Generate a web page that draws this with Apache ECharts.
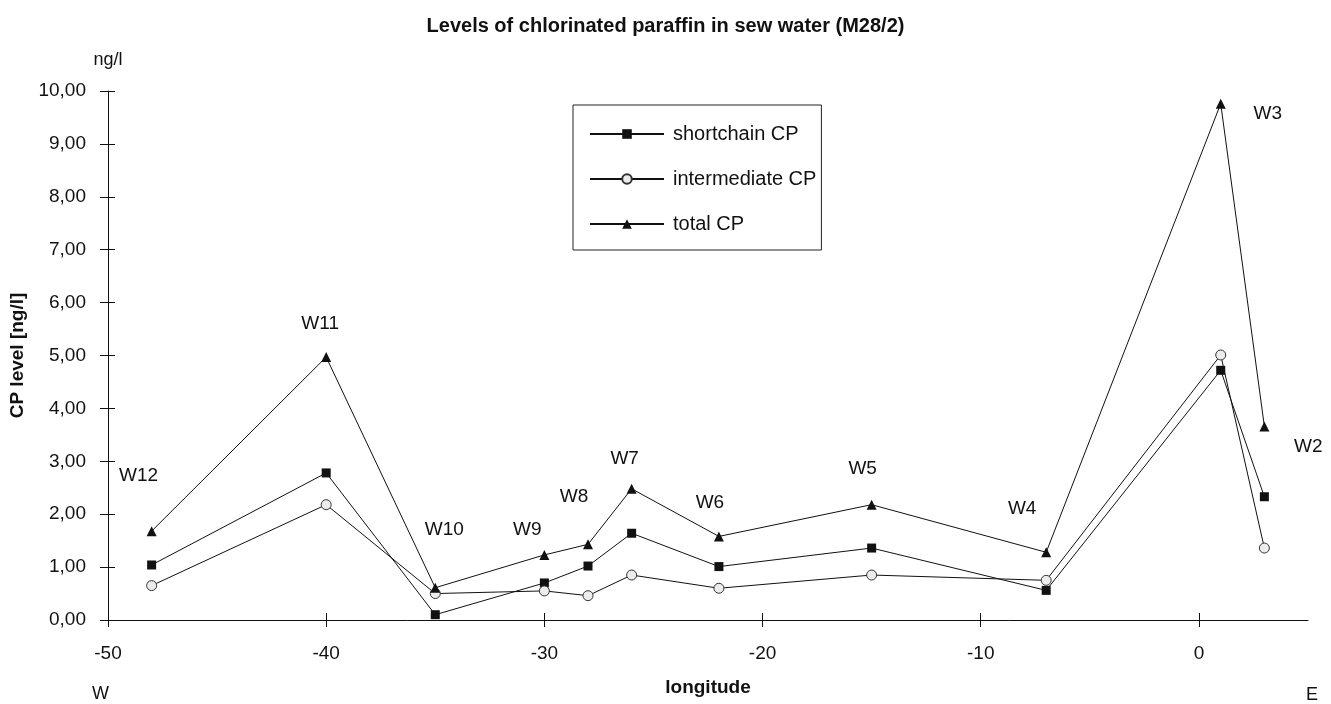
<!DOCTYPE html>
<html>
<head>
<meta charset="utf-8">
<title>Levels of chlorinated paraffin in sew water (M28/2)</title>
<script src="https://cdn.jsdelivr.net/npm/echarts@6/dist/echarts.min.js"></script>
<style>
  html, body { margin: 0; padding: 0; background: #fff; }
  #chart { width: 1331px; height: 704px; }
</style>
</head>
<body>
<div id="chart"></div>
<script>
// Sampling stations, west to east
const stations = ['W12', 'W11', 'W10', 'W9', 'W8', 'W7', 'W6', 'W5', 'W4', 'W3', 'W2'];
const longitude = [-48, -40, -35, -30, -28, -26, -22, -15, -7, 1, 3];

// CP levels in ng/l
const shortchainCP = [1.04, 2.78, 0.10, 0.70, 1.02, 1.64, 1.01, 1.36, 0.56, 4.72, 2.33];
const intermediateCP = [0.65, 2.18, 0.50, 0.55, 0.46, 0.85, 0.60, 0.85, 0.75, 5.01, 1.36];
const totalCP = [1.68, 4.97, 0.61, 1.23, 1.43, 2.48, 1.58, 2.18, 1.28, 9.76, 3.66];

// Axis ticks
const xTicks = [-50, -40, -30, -20, -10, 0];
const yTicks = [0, 1, 2, 3, 4, 5, 6, 7, 8, 9, 10];

// Station label placement relative to the total CP marker (px)
const stationLabelOffsets = [
  [-13, -55], [-6, -33], [9, -58], [-17, -25], [-14, -48], [-7, -30],
  [-9, -34], [-9, -36], [-24, -44], [47, 10], [44, 20]
];

const FONT = '"Liberation Sans", Arial, sans-serif';
const INK = '#111';

const pairs = (ys) => longitude.map((x, i) => [x, ys[i]]);
const fmtY = (v) => v.toFixed(2).replace('.', ',');

// Plot rectangle
const GRID = { left: 108, right: 23, top: 91, bottom: 84 };
const PLOT_W = 1331 - GRID.left - GRID.right;
const PLOT_H = 704 - GRID.top - GRID.bottom;

const chart = echarts.init(document.getElementById('chart'), null, { renderer: 'canvas' });

const lineBase = {
  type: 'line',
  xAxisIndex: 0,
  yAxisIndex: 0,
  lineStyle: { color: INK, width: 1 },
  emphasis: { disabled: true },
  animation: false,
  z: 3
};

// The crossing tick marks are built from two axes per dimension: the main
// axis ticks point outward, a mirrored axis from the opposite side is shifted
// onto the same line so its outward ticks point into the plot.
chart.setOption({
  backgroundColor: '#fff',
  animation: false,
  title: {
    text: 'Levels of chlorinated paraffin in sew water (M28/2)',
    left: 'center',
    top: 11,
    textStyle: { fontFamily: FONT, fontSize: 20, fontWeight: 'bold', color: INK }
  },
  legend: {
    orient: 'vertical',
    left: 573,
    top: 105,
    data: ['shortchain CP', 'intermediate CP', 'total CP'],
    itemWidth: 74,
    itemHeight: 12,
    itemGap: 25,
    padding: [19, 5, 16, 16],
    borderColor: '#222',
    borderWidth: 1,
    backgroundColor: '#fff',
    textStyle: { fontFamily: FONT, fontSize: 20, color: INK, padding: [0, 0, 0, 4] }
  },
  grid: Object.assign({}, GRID),
  xAxis: [
    {
      type: 'value',
      position: 'bottom',
      min: -50,
      max: 5,
      interval: 10,
      name: 'longitude',
      nameLocation: 'middle',
      nameGap: 58,
      nameTextStyle: { fontFamily: FONT, fontSize: 19, fontWeight: 'bold', color: INK },
      axisLine: { show: true, onZero: false, lineStyle: { color: INK, width: 1 } },
      axisTick: { show: true, length: 7, customValues: xTicks, lineStyle: { color: INK } },
      axisLabel: { customValues: xTicks, margin: 24, fontFamily: FONT, fontSize: 19, color: INK },
      splitLine: { show: false }
    },
    {
      type: 'value',
      position: 'top',
      offset: -PLOT_H,
      min: -50,
      max: 5,
      interval: 10,
      axisLine: { show: false, onZero: false },
      axisTick: { show: true, length: 7, customValues: xTicks, lineStyle: { color: INK } },
      axisLabel: { show: false },
      splitLine: { show: false }
    }
  ],
  yAxis: [
    {
      type: 'value',
      position: 'left',
      min: 0,
      max: 10,
      interval: 1,
      name: 'CP level [ng/l]',
      nameLocation: 'middle',
      nameGap: 80,
      nameTextStyle: { fontFamily: FONT, fontSize: 19, fontWeight: 'bold', color: INK },
      axisLine: { show: true, onZero: false, lineStyle: { color: INK, width: 1 } },
      axisTick: { show: true, length: 8, customValues: yTicks, lineStyle: { color: INK } },
      axisLabel: { customValues: yTicks, margin: 22, fontFamily: FONT, fontSize: 19, color: INK, formatter: fmtY },
      splitLine: { show: false }
    },
    {
      type: 'value',
      position: 'right',
      offset: -PLOT_W,
      min: 0,
      max: 10,
      interval: 1,
      name: 'ng/l',
      nameLocation: 'end',
      nameGap: 22,
      nameTextStyle: { fontFamily: FONT, fontSize: 18, color: INK, align: 'center' },
      axisLine: { show: false, onZero: false },
      axisTick: { show: true, length: 7, customValues: yTicks, lineStyle: { color: INK } },
      axisLabel: { show: false },
      splitLine: { show: false }
    }
  ],
  graphic: [
    { type: 'text', left: 92, top: 685, style: { text: 'W', font: '18px ' + FONT, fill: INK } },
    { type: 'text', left: 1306, top: 686, style: { text: 'E', font: '18px ' + FONT, fill: INK } }
  ],
  series: [
    Object.assign({}, lineBase, {
      name: 'shortchain CP',
      data: pairs(shortchainCP),
      symbol: 'rect',
      symbolSize: 9,
      itemStyle: { color: INK, borderWidth: 0 }
    }),
    Object.assign({}, lineBase, {
      name: 'intermediate CP',
      data: pairs(intermediateCP),
      symbol: 'circle',
      symbolSize: 10,
      itemStyle: { color: '#ececec', borderColor: '#333', borderWidth: 1 }
    }),
    Object.assign({}, lineBase, {
      name: 'total CP',
      data: pairs(totalCP),
      symbol: 'triangle',
      symbolSize: 10,
      itemStyle: { color: INK, borderWidth: 0 },
      label: {
        show: true,
        position: 'inside',
        formatter: (p) => stations[p.dataIndex],
        fontFamily: FONT,
        fontSize: 19,
        color: INK
      },
      labelLayout: (p) => {
        const o = stationLabelOffsets[p.dataIndex];
        return { dx: o[0], dy: o[1], hideOverlap: false };
      }
    }),
    // Transparent companion series keeping the mirrored axes active
    {
      type: 'line',
      name: 'tick-frame',
      xAxisIndex: 1,
      yAxisIndex: 1,
      data: pairs(totalCP),
      symbol: 'none',
      silent: true,
      lineStyle: { opacity: 0 },
      tooltip: { show: false },
      animation: false
    }
  ]
});
</script>
</body>
</html>
